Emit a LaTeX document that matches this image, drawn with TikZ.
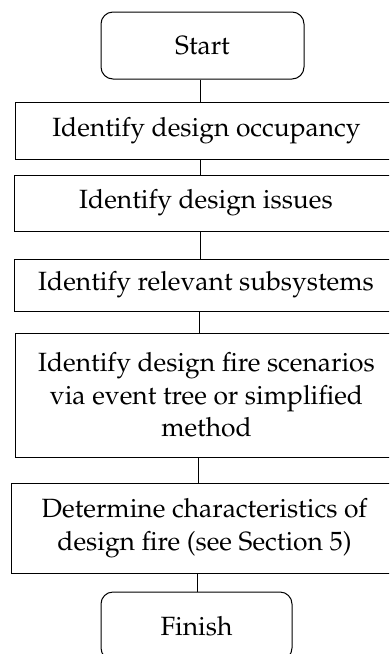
\documentclass[tikz,border=0pt]{standalone}
\usepackage[T1]{fontenc}
\usepackage{mathpazo}
\begin{document}
\begin{tikzpicture}[x=1pt,y=-1pt,
  box/.style={draw, line width=1pt, inner sep=0pt, align=center,
    font=\fontsize{26.4}{32.5}\selectfont},
  term/.style={box, rounded corners=12pt},
  link/.style={line width=1pt}]
\useasboundingbox (0,0) rectangle (389,654);
\clip (0,0) rectangle (389,654);
\node[term, minimum width=203pt, minimum height=67pt] (start) at (202.5,45.5) {Start};
\node[box, minimum width=383pt, minimum height=57pt] (b1) at (206.5,130.5) {Identify design occupancy};
\node[box, minimum width=384pt, minimum height=56pt] (b2) at (206,203) {Identify design issues};
\node[box, minimum width=384pt, minimum height=52pt] (b3) at (206,285) {Identify relevant subsystems};
\node[box, minimum width=383pt, minimum height=124pt] (b4) at (206.5,395) {Identify design fire scenarios\\via event tree or simplified\\method};
\node[box, minimum width=387pt, minimum height=90pt] (b5) at (204.5,528) {Determine characteristics of\\design fire (see Section 5)};
\node[term, minimum width=191pt, minimum height=68pt] (finish) at (196.5,626) {Finish};
\draw[link] ([xshift=-2.5pt]start.south) -- ([xshift=-2.5pt]start.south |- b1.north);
\draw[link] ([xshift=-6.5pt]b1.south) -- ([xshift=-6.5pt]b1.south |- b2.north);
\draw[link] ([xshift=-6pt]b2.south) -- ([xshift=-6pt]b2.south |- b3.north);
\draw[link] ([xshift=-7pt]b3.south) -- ([xshift=-7pt]b3.south |- b4.north);
\draw[link] ([xshift=-8.5pt]b4.south) -- ([xshift=-8.5pt]b4.south |- b5.north);
\draw[link] ([xshift=0.5pt]finish.north |- b5.south) -- ([xshift=0.5pt]finish.north);
\end{tikzpicture}
\end{document}
